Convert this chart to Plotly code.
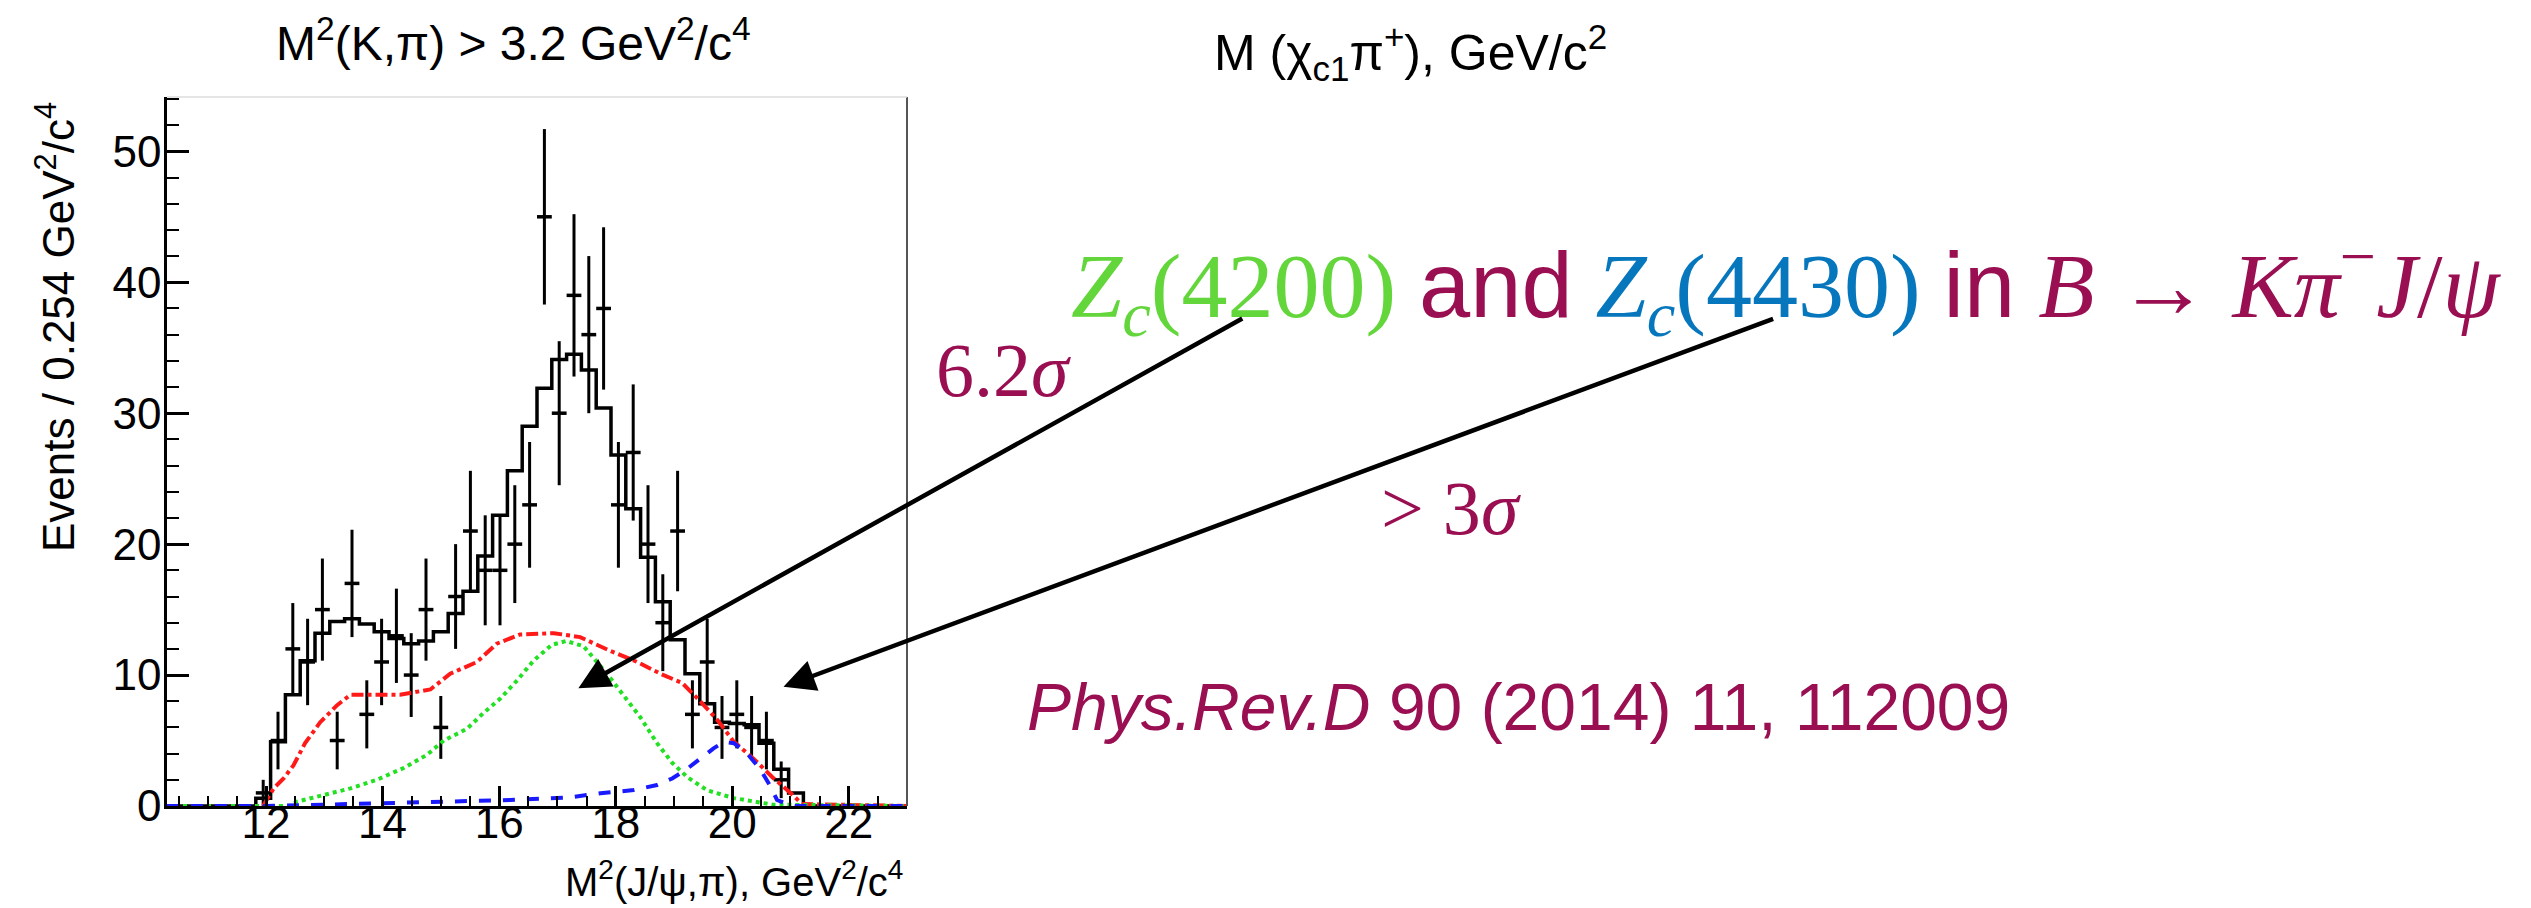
import numpy as np
import plotly.graph_objects as go

# ---------------------------------------------------------------- data
# Histogram binning (GeV^2/c^4): 50 bins of 0.254 starting at 10.3
X_MIN = 10.3
BIN_W = 0.254
N_BINS = 50

# Observed events: bin index, count and its error
data_bin = [6, 7, 8, 9, 10, 11, 12, 13, 14, 15, 16, 17, 18, 19, 20, 21, 22, 23,
            24, 25, 26, 27, 28, 29, 30, 31, 32, 33, 34, 35, 36, 37, 38, 39, 40, 41]
data_count = [1, 5, 12, 11, 15, 5, 17, 7, 11, 13, 10, 15, 6, 16, 21, 18, 18, 20,
              23, 45, 30, 39, 36, 38, 23, 27, 20, 14, 21, 7, 11, 6, 7, 6, 5, 2]
data_err = [1.0, 2.2, 3.5, 3.3, 3.9, 2.2, 4.1, 2.6, 3.3, 3.6, 3.2, 3.9, 2.4, 4.0,
            4.6, 4.2, 4.2, 4.5, 4.8, 6.7, 5.5, 6.2, 6.0, 6.2, 4.8, 5.2, 4.5, 3.7,
            4.6, 2.6, 3.3, 2.4, 2.6, 2.4, 2.2, 1.4]

# Total fit, per bin
fit_total = [0, 0, 0, 0, 0, 0,
             0.6, 4.9, 8.5, 11.1, 13.2, 14.1, 14.3, 13.9, 13.3, 12.8,
             12.4, 12.6, 13.3, 14.7, 16.4, 19.1, 22.2, 25.6, 29.0, 31.9,
             34.1, 34.5, 33.3, 30.4, 26.8, 22.7, 19.0, 15.6, 12.7, 10.1,
             7.8, 6.4, 6.3, 6.2, 4.8, 2.8, 1.0,
             0, 0, 0, 0, 0, 0, 0]

# Fit components
bkg_x = [10.3, 11.95, 12.13, 12.3, 12.47, 12.67, 12.93, 13.22, 13.45, 13.79, 14.3,
         14.82, 15.16, 15.62, 15.96, 16.36, 16.94, 17.39, 17.88, 18.37, 18.77,
         19.14, 19.43, 19.74, 20.03, 20.37, 20.69, 21.0, 21.2, 23.0]
bkg_y = [0, 0, 1.35, 2.1, 3.1, 4.8, 6.4, 7.7, 8.5, 8.5, 8.5, 8.9, 10.1, 11.0, 12.4,
         13.1, 13.2, 12.9, 11.9, 11.0, 10.1, 9.4, 8.1, 6.6, 4.9, 3.6, 2.2, 1.0,
         0.15, 0]

z4200_x = [10.3, 12.4, 12.53, 12.99, 13.45, 13.9, 14.36, 14.76, 15.05, 15.45, 15.73,
           16.02, 16.31, 16.59, 16.9, 17.15, 17.45, 17.85, 18.2, 18.42, 18.71,
           18.97, 19.23, 19.57, 20.03, 20.43, 20.7, 23.0]
z4200_y = [0, 0, 0.33, 0.84, 1.35, 2.0, 2.9, 3.9, 5.0, 5.9, 7.1, 8.2, 9.6, 11.1,
           12.3, 12.6, 12.2, 10.1, 8.1, 6.8, 4.8, 3.3, 2.2, 1.2, 0.6, 0.33, 0.1, 0]

z4430_x = [10.3, 12.0, 13.0, 14.0, 15.0, 16.19, 17.17, 17.74, 18.31, 18.71, 18.97,
           19.2, 19.46, 19.68, 19.86, 20.03, 20.26, 20.49, 20.66, 20.77, 20.94,
           21.1, 23.0]
z4430_y = [0, 0, 0.1, 0.2, 0.3, 0.46, 0.64, 0.97, 1.22, 1.6, 2.1, 2.75, 3.64, 4.4,
           4.9, 4.8, 4.0, 2.75, 1.47, 0.46, 0.15, 0, 0]

x_ticks = [12, 14, 16, 18, 20, 22]
y_ticks = [0, 10, 20, 30, 40, 50]

# ---------------------------------------------------------------- styling
SANS = "Liberation Sans, Arial, sans-serif"
SERIF = "Liberation Serif, Times New Roman, serif"
MAROON = "#990f52"
GREEN = "#62d63a"
BLUE = "#0677bd"

W, H = 2531, 908
L, R, T, B = 167, W - 907, 97, H - 806
PW, PH = W - L - R, H - T - B


def fx(px):
    """Horizontal pixel position -> paper fraction."""
    return (px - L) / PW


def fy(py):
    """Vertical pixel position (from top) -> paper fraction."""
    return (H - B - py) / PH


edges = X_MIN + BIN_W * np.arange(N_BINS + 1)
centers = edges[:-1] + BIN_W / 2

fig = go.Figure()

# total fit as a step histogram
fig.add_trace(go.Scatter(
    x=edges, y=list(fit_total) + [fit_total[-1]],
    mode="lines", line=dict(shape="hv", color="black", width=3.5),
    hoverinfo="skip"))

# data points with error bars
fig.add_trace(go.Scatter(
    x=centers[data_bin], y=data_count, mode="markers",
    marker=dict(size=1, color="black"),
    error_y=dict(type="data", array=data_err, color="black", thickness=3, width=0),
    error_x=dict(type="constant", value=BIN_W / 2, color="black", thickness=3.5, width=0)))

# fit components
fig.add_trace(go.Scatter(x=bkg_x, y=bkg_y, mode="lines",
                         line=dict(color="#ff1a1a", width=4, dash="dashdot")))
fig.add_trace(go.Scatter(x=z4200_x, y=z4200_y, mode="lines",
                         line=dict(color="#22e022", width=4, dash="dot")))
fig.add_trace(go.Scatter(x=z4430_x, y=z4430_y, mode="lines",
                         line=dict(color="#1a1aff", width=4, dash="dash")))

axis_common = dict(
    showgrid=False, zeroline=False, showline=True, linecolor="black", linewidth=2.5,
    ticks="inside", tickcolor="black", tickwidth=2.5,
    tickfont=dict(family=SANS, size=44, color="black"),
)
fig.update_xaxes(range=[X_MIN, X_MIN + N_BINS * BIN_W], tickvals=x_ticks,
                 ticklen=20, ticklabelstandoff=-24,
                 minor=dict(dtick=0.5, tick0=0, ticks="inside", ticklen=10,
                            tickwidth=2, tickcolor="black", showgrid=False),
                 **axis_common)
fig.update_yaxes(range=[0, 54.15], tickvals=y_ticks, ticklen=22,
                 ticklabelstandoff=-6,
                 minor=dict(dtick=2, tick0=0, ticks="inside", ticklen=12,
                            tickwidth=2, tickcolor="black", showgrid=False),
                 **axis_common)

# right and top frame edges
fig.add_shape(type="line", xref="paper", yref="paper", x0=1, x1=1, y0=0, y1=1,
              line=dict(color="#555555", width=2))
fig.add_shape(type="line", xref="paper", yref="paper", x0=0, x1=1, y0=1, y1=1,
              line=dict(color="#dddddd", width=1.5))

ann = []
# histogram titles
ann.append(dict(text="M<sup>2</sup>(K,π) > 3.2 GeV<sup>2</sup>/c<sup>4</sup>",
                x=fx(513), y=fy(40), xanchor="center", yanchor="middle",
                font=dict(family=SANS, size=48, color="black")))
ann.append(dict(text="M (χ<sub>c1</sub>π<sup>+</sup>), GeV/c<sup>2</sup>",
                x=fx(1212), y=fy(52), xanchor="left", yanchor="middle",
                font=dict(family=SANS, size=50, color="black")))
ann.append(dict(text="Events / 0.254 GeV<sup>2</sup>/c<sup>4</sup>",
                x=fx(55), y=fy(327), xanchor="center", yanchor="middle",
                textangle=-90, font=dict(family=SANS, size=44, color="black")))
ann.append(dict(text="M<sup>2</sup>(J/ψ,π), GeV<sup>2</sup>/c<sup>4</sup>",
                x=fx(905), y=fy(879), xanchor="right", yanchor="middle",
                font=dict(family=SANS, size=40, color="black")))

# headline
headline = (
    f'<span style="color:{GREEN}"><i>Z</i><sub><i>c</i></sub>(4200)</span> '
    f'<span style="color:{MAROON};font-family:{SANS}">and</span> '
    f'<span style="color:{BLUE}"><i>Z</i><sub><i>c</i></sub>(4430)</span> '
    f'<span style="color:{MAROON};font-family:{SANS}">in</span> '
    f'<span style="color:{MAROON}"><i>B</i> → <i>Kπ</i><sup>−</sup><i>J</i>/<i>ψ</i></span>'
)
ann.append(dict(text=headline, x=fx(1069), y=fy(285), xanchor="left", yanchor="middle",
                font=dict(family=SERIF, size=92, color=MAROON)))
ann.append(dict(text="6.2<i>σ</i>", x=fx(934), y=fy(370), xanchor="left",
                yanchor="middle", font=dict(family=SERIF, size=76, color=MAROON)))
ann.append(dict(text="> 3<i>σ</i>", x=fx(1379), y=fy(508), xanchor="left",
                yanchor="middle", font=dict(family=SERIF, size=76, color=MAROON)))
ann.append(dict(text="<i>Phys.Rev.D</i> 90 (2014) 11, 112009", x=fx(1025), y=fy(707),
                xanchor="left", yanchor="middle",
                font=dict(family=SANS, size=66, color=MAROON)))
for a in ann:
    a.update(xref="paper", yref="paper", showarrow=False)

# arrows from the headline down to the components
arrow = dict(xref="x", yref="y", axref="x", ayref="y", text="", showarrow=True,
             arrowhead=2, arrowsize=1.4, arrowwidth=4.5, arrowcolor="black", standoff=0)
ann.append(dict(arrow, x=17.36, y=9.0, ax=28.78, ay=37.3))
ann.append(dict(arrow, x=20.88, y=9.1, ax=37.89, ay=37.25))

fig.update_layout(width=W, height=H, margin=dict(l=L, r=R, t=T, b=B),
                  plot_bgcolor="white", paper_bgcolor="white",
                  showlegend=False, annotations=ann)

fig.write_html("out.html")
